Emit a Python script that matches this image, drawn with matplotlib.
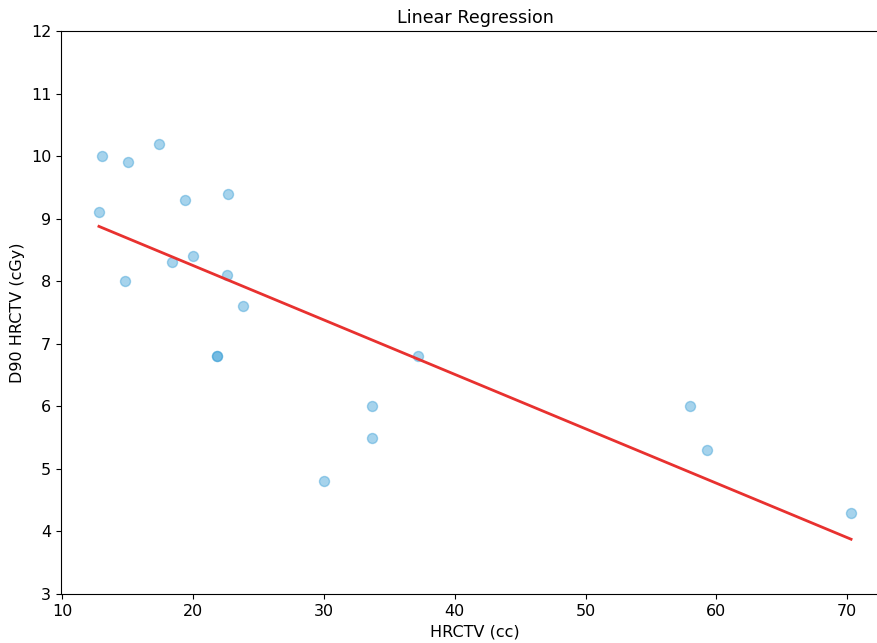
import numpy as np
import matplotlib
matplotlib.use("Agg")
import matplotlib.pyplot as plt

# data
hrctv = [12.8, 13.0, 15.0, 14.8, 17.4, 18.4, 19.4, 20.0, 21.8, 21.8,
         22.7, 22.6, 23.8, 30.0, 33.7, 33.7, 37.2, 58.0, 59.3, 70.3]
d90 = [9.1, 10.0, 9.9, 8.0, 10.2, 8.3, 9.3, 8.4, 6.8, 6.8,
       9.4, 8.1, 7.6, 4.8, 6.0, 5.5, 6.8, 6.0, 5.3, 4.3]

x = np.array(hrctv)
y = np.array(d90)
slope, intercept = np.polyfit(x, y, 1)
xs = np.array([x.min(), x.max()])

fig = plt.figure(figsize=(8.77, 6.43), dpi=100)
ax = fig.add_axes([61/877, 1-594/643, (889-61)/877, 563/643])

ax.scatter(x, y, s=52, color='#3a9fd6', alpha=0.45, edgecolors='#3a9fd6', linewidths=1)
ax.plot(xs, slope*xs + intercept, color='#e8312f', linewidth=2)

ax.set_xlim(9.9, 73.2)
ax.set_ylim(3, 12)
ax.set_title('Linear Regression', fontsize=12.6)
ax.set_xlabel('HRCTV (cc)', fontsize=11.5)
ax.set_ylabel('D90 HRCTV (cGy)', fontsize=11.5)
ax.tick_params(labelsize=11.5)

fig.savefig('out.png', dpi=100)
